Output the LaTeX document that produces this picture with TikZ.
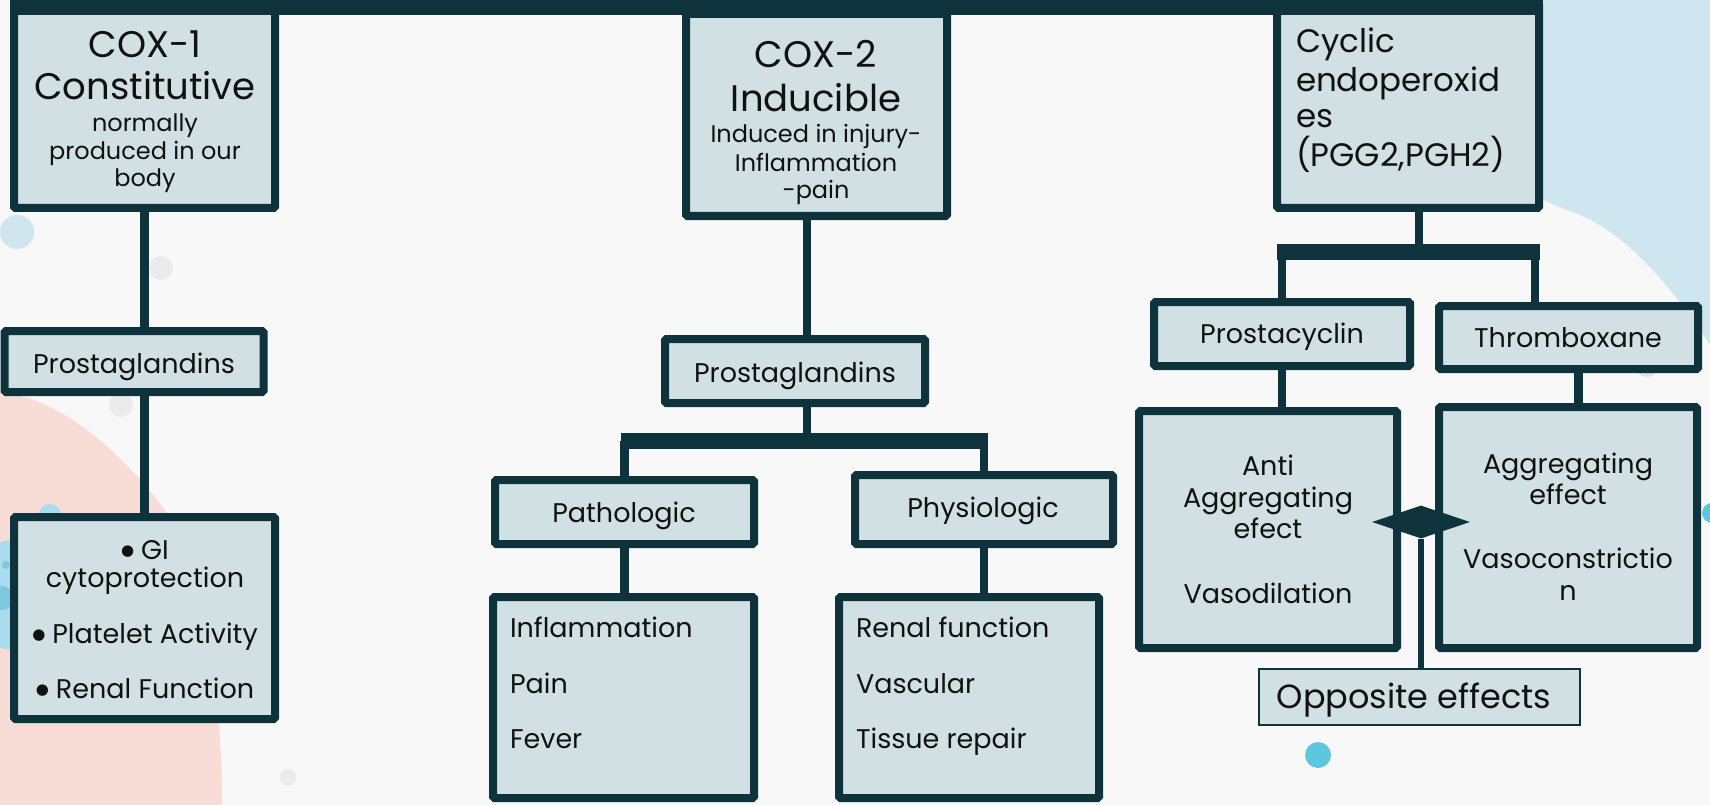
\documentclass[tikz,border=0pt]{standalone}
\usepackage{fontspec}
\setmainfont{Poppins}
\newfontfamily\symfont{DejaVu Sans}
\usetikzlibrary{calc,shapes.geometric}
\definecolor{dk}{HTML}{0E333C}
\definecolor{fillc}{HTML}{D1E0E3}
\definecolor{bgc}{HTML}{F8F8F8}
\definecolor{pinkc}{HTML}{F8DDD7}
\definecolor{lblue}{HTML}{CFE6F1}
\definecolor{mblue}{HTML}{A9DCEE}
\definecolor{dblue}{HTML}{7DC7E0}
\definecolor{cyanc}{HTML}{5CC7DE}
\definecolor{grayc}{HTML}{EBEBEB}
\definecolor{txt}{HTML}{111111}
\newcommand{\bul}{\raisebox{4pt}{\symfont\fontsize{15}{15}\selectfont ●}\hspace{7pt}}
\begin{document}
\begin{tikzpicture}[x=1pt,y=-1pt,
  box/.style={draw=dk, fill=fillc, line width=8pt, rounded corners=1.5pt, inner sep=0pt, outer sep=0pt},
  thinbox/.style={draw=dk, fill=fillc, line width=2pt, inner sep=0pt, outer sep=0pt},
  conn/.style={draw=dk, line width=8.5pt},
  hub/.style={draw=dk, line width=16pt},
  tbase/.style={inner sep=0pt, outer sep=0pt, text=txt, anchor=base},
  tbig/.style={tbase, font=\fontsize{37}{40}\selectfont},
  tmid/.style={tbase, font=\fontsize{32.5}{36}\selectfont},
  tnorm/.style={tbase, font=\fontsize{27}{30}\selectfont},
  tsmall/.style={tbase, font=\fontsize{24}{26}\selectfont},
  topp/.style={tbase, font=\fontsize{33.5}{36}\selectfont},
]
\useasboundingbox (0,0) rectangle (1710,805);
\clip (0,0) rectangle (1710,805);
% background
\fill[bgc] (0,0) rectangle (1710,805);
\fill[pinkc] (0,392) .. controls (60,398) and (120,450) .. (167,513)
  .. controls (200,560) and (222,680) .. (222,805) -- (0,805) -- cycle;
\fill[lblue] (1500,0) -- (1710,0) -- (1710,345)
  .. controls (1680,300) and (1630,230) .. (1567,210)
  .. controls (1540,200) and (1520,190) .. (1500,150) -- cycle;
\fill[lblue] (1647,365) circle (12);
\fill[lblue] (17,232) circle (17);
\fill[grayc] (161,268) circle (12);
\fill[grayc] (121,405) circle (12);
\fill[grayc] (288,777) circle (8);
\fill[mblue] (15,595) circle (55);
\fill[mblue] (50,515) circle (11);
\fill[dblue] (6,565) circle (4);
\fill[dblue] (2,598) circle (12);
\fill[cyanc] (1318,755) circle (13);
\fill[cyanc] (1712,513) circle (10);

% boxes (outer extents minus line width)
\node[box, minimum width=261, minimum height=202] (cox1) at (144.5,107) {};
\node[box, minimum width=259, minimum height=61] (prostL) at (134,361.5) {};
\node[box, minimum width=261, minimum height=202] (gi) at (144.5,618) {};
\node[box, minimum width=261, minimum height=202] (cox2) at (816.5,115) {};
\node[box, minimum width=260, minimum height=64] (prostM) at (795,371) {};
\node[box, minimum width=262, minimum height=204] (cyc) at (1408,106) {};
\node[box, minimum width=256, minimum height=64] (pcyc) at (1282,334) {};
\node[box, minimum width=259, minimum height=63] (thx) at (1568.5,337.5) {};
\node[box, minimum width=259, minimum height=64] (path) at (624.5,512) {};
\node[box, minimum width=258, minimum height=69] (phys) at (984,509.5) {};
\node[box, minimum width=261, minimum height=201] (infl) at (623.5,697.5) {};
\node[box, minimum width=260, minimum height=201] (renal) at (969,697.5) {};
\node[box, minimum width=258, minimum height=237] (anti) at (1268,529.5) {};
\node[box, minimum width=258, minimum height=241] (agg) at (1568,527.5) {};
\node[thinbox, minimum width=321, minimum height=56] (opp) at (1419.5,697) {};

% top bar
\coordinate (tl) at ($(cox1.north west)+(-4,0)$);
\coordinate (tr) at ($(cyc.north east)+(4,0)$);
\fill[dk] (tl |- 0,0) rectangle (tr |- 0,15);

% left branch
\draw[conn] (cox1.south) -- (cox1.south |- prostL.north);
\draw[conn] (gi.north |- prostL.south) -- (gi.north);

% middle branch
\coordinate (c2s) at ($(cox2.south)+(-9.5,0)$);
\coordinate (mhub) at (c2s |- 0,441);
\draw[conn] (c2s) -- (c2s |- prostM.north);
\draw[conn] (c2s |- prostM.south) -- (mhub);
\draw[hub] (621,441) -- (988,441);
\draw[conn] (path.north) -- (path.north |- mhub);
\draw[conn] (phys.north) -- (phys.north |- mhub);
\draw[conn] (path.south) -- (path.south |- infl.north);
\draw[conn] (phys.south) -- (phys.south |- renal.north);

% right branch
\coordinate (cs) at ($(cyc.south)+(11,0)$);
\coordinate (rhub) at (cs |- 0,252);
\draw[conn] (cs) -- (rhub);
\draw[hub] (1277,252) -- (1540,252);
\draw[conn] (pcyc.north) -- (pcyc.north |- rhub);
\coordinate (ts) at ($(thx.north)+(-33.5,0)$);
\draw[conn] (ts) -- (ts |- rhub);
\draw[conn] (pcyc.south) -- (pcyc.south |- anti.north);
\coordinate (tb) at ($(thx.south)+(10,0)$);
\draw[conn] (tb) -- (tb |- agg.north);

% opposite effects marker
\node[diamond, fill=dk, minimum width=98, minimum height=33, inner sep=0pt] (dia) at (1421,522) {};
\draw[dk, line width=6pt] (dia.south) -- (dia.south |- opp.north);

% texts
\node[tbig] (t1a) at (145,58) {COX-1};
\node[tbig] (t1b) at (145,100) {Constitutive};
\node[tsmall] (t1c) at (145,132) {normally};
\node[tsmall] (t1d) at (145,160) {produced in our};
\node[tsmall] (t1e) at (145,187) {body};

\node[tbig] (t2a) at (816,68) {COX-2};
\node[tbig] (t2b) at (816,112) {Inducible};
\node[tsmall] (t2c) at (816,143) {Induced in injury-};
\node[tsmall] (t2d) at (816,172) {Inflammation};
\node[tsmall] (t2e) at (816,199) {-pain};

\node[tmid, anchor=base west] (t3a) at (1296,53) {Cyclic};
\node[tmid, anchor=base west] (t3b) at (1296,92) {endoperoxid};
\node[tmid, anchor=base west] (t3c) at (1296,128) {es};
\node[tmid, anchor=base west] (t3d) at (1296,167) {(PGG2,PGH2)};

\node[tnorm] (tpl) at (134,373) {Prostaglandins};
\node[tnorm] (tg1) at (145,559) {\bul GI};
\node[tnorm] (tg2) at (145,587) {cytoprotection};
\node[tnorm] (tg3) at (145,643) {\bul Platelet Activity};
\node[tnorm] (tg4) at (145,698) {\bul Renal Function};

\node[tnorm] (tpm) at (795,382) {Prostaglandins};
\node[tnorm] (tpc) at (1282,343) {Prostacyclin};
\node[tnorm] (ttx) at (1568,347) {Thromboxane};
\node[tnorm] (tpa) at (624,522) {Pathologic};
\node[tnorm] (tph) at (983,517) {Physiologic};

\node[tnorm, anchor=base west] (ti1) at (510,637) {Inflammation};
\node[tnorm, anchor=base west] (ti2) at (510,693) {Pain};
\node[tnorm, anchor=base west] (ti3) at (510,748) {Fever};
\node[tnorm, anchor=base west] (tr1) at (856,637) {Renal function};
\node[tnorm, anchor=base west] (tr2) at (856,693) {Vascular};
\node[tnorm, anchor=base west] (tr3) at (856,748) {Tissue repair};

\node[tnorm] (ta1) at (1268,475) {Anti};
\node[tnorm] (ta2) at (1268,507) {Aggregating};
\node[tnorm] (ta3) at (1268,538) {efect};
\node[tnorm] (ta4) at (1268,603) {Vasodilation};

\node[tnorm] (tb1) at (1568,473) {Aggregating};
\node[tnorm] (tb2) at (1568,504) {effect};
\node[tnorm] (tb3) at (1568,568) {Vasoconstrictio};
\node[tnorm] (tb4) at (1568,600) {n};

\node[topp] (top) at (1414,708) {Opposite effects};
\end{tikzpicture}
\end{document}
